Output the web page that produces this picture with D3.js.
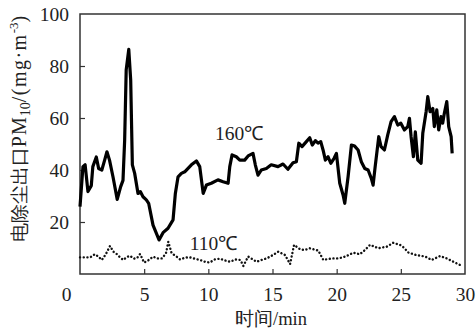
<!DOCTYPE html>
<html><head><meta charset="utf-8">
<script src="https://cdn.jsdelivr.net/npm/d3@7"></script>
<style>
html,body{margin:0;padding:0;background:#fff;}
svg{display:block;}
text{font-family:"Liberation Serif","Times New Roman",serif;fill:#222;}
</style></head>
<body>
<svg id="chart" width="476" height="332"></svg>
<script>
// ---- data ----
const xTicks = [0, 5, 10, 15, 20, 25, 30];
const yTicks = [20, 40, 60, 80, 100];
const seriesNames = ["160℃", "110℃"];

const hotTime = [0,0.23,0.4,0.62,0.88,1.0,1.27,1.45,1.7,1.92,2.1,2.3,2.57,2.9,3.17,3.35,3.48,3.6,3.8,3.95,4.08,4.26,4.52,4.7,4.91,5.17,5.35,5.69,6.16,6.47,6.86,7.25,7.43,7.64,7.9,8.16,8.68,9.07,9.33,9.6,9.85,10.23,10.75,11.15,11.54,11.67,11.85,12.18,12.45,12.83,13.1,13.48,13.66,13.87,14.13,14.52,14.9,15.43,15.82,16.2,16.6,16.86,17.05,17.3,17.64,17.9,18.1,18.34,18.55,18.76,18.94,19.12,19.33,19.54,19.8,19.98,20.24,20.5,20.63,20.89,21.15,21.4,21.67,21.92,22.19,22.45,22.7,22.84,23.0,23.28,23.46,23.72,23.98,24.24,24.5,24.76,25.0,25.28,25.54,25.67,25.8,25.98,26.13,26.32,26.58,26.71,26.97,27.1,27.28,27.49,27.61,27.8,27.95,28.13,28.26,28.39,28.58,28.73,28.92,29.0];
const hotValue = [25.9,41.3,42,31.7,34,41.3,45,40.6,40,43.8,47,43.8,37.4,28.7,33.6,36,51.5,78.5,86.4,74.6,42,38.7,31,31.7,29.7,28.5,27.2,18.8,13.1,15.9,17.6,20.8,31,37.4,38.7,39.3,42,43.5,41.3,31,34.2,34.9,36.2,35.5,34.9,41.3,45.8,45.1,43.8,43.8,45.4,46.4,42,38,40,40.6,42,41.3,42.3,40.3,42.8,43.2,50.3,49,50.9,52.4,49.6,51.3,50.3,50.9,47.7,43.8,45.1,42.6,44.5,46.4,34.9,30.4,27.2,37.4,49.6,49.2,47.7,43.2,40.6,40,36.8,34.2,41.3,52.8,49,47.7,53.5,58.6,60.5,57.3,58,55.4,56.7,59.9,52.8,45.1,54.7,43.8,42.6,54.1,62.4,68.2,62.4,63.7,56.7,63.1,55.4,60.5,58,61.8,66.3,56.7,52.8,46.4];

const coldTime = [0,0.4,0.8,1.15,1.4,1.7,2.0,2.34,2.6,2.86,3.1,3.37,3.65,3.9,4.2,4.45,4.68,4.99,5.3,5.7,6.0,6.4,6.7,6.88,7.14,7.5,7.8,8.2,8.57,9.0,9.35,9.74,10.1,10.5,10.9,11.3,11.7,12.1,12.5,12.73,13.1,13.4,13.77,14.2,14.55,15.0,15.45,15.98,16.37,16.68,17.15,17.5,17.9,18.57,18.96,19.35,19.74,20.1,20.5,20.9,21.3,21.8,22.2,22.6,23.25,23.9,24.4,24.94,25.2,25.6,26.2,26.9,27.4,28.06,28.58,29.1,29.6];
const coldValue = [6.4,6.4,6.4,7.6,6.8,5.4,7.5,10.8,8.6,7.7,6.5,5.4,6.5,7,5.9,6.2,7.7,4.4,5.2,6.7,6.0,6.0,8,12.4,8,6.8,5.6,6.3,6.4,5.8,5.4,4.7,4.4,5.6,5.9,5.2,4.7,5.6,5.4,3.1,6.7,5.8,4.7,5.5,6,7.2,8.6,7.3,3.8,11.2,9.5,9.2,9.9,9,5.4,5.8,6,6,6.4,7.2,8.2,7.6,9.2,11.2,9.9,10.5,12,11.2,10.3,8.2,7.3,6.7,5.4,6.9,6,4.7,3.5];

// ---- layout ----
const svg = d3.select("#chart");
const mLeft = 80, mRight = 465, mTop = 14, mBottom = 274;
const x = d3.scaleLinear().domain([0, 30]).range([mLeft, mRight]);
const y = d3.scaleLinear().domain([0, 100]).range([mBottom, mTop]);

// frame
svg.append("rect").attr("x", mLeft).attr("y", mTop)
  .attr("width", mRight - mLeft).attr("height", mBottom - mTop)
  .attr("fill", "none").attr("stroke", "#333").attr("stroke-width", 1.5);

// x axis
const xAxis = svg.append("g").attr("transform", `translate(0,${mBottom})`)
  .call(d3.axisBottom(x).tickValues(xTicks).tickSizeInner(-5).tickSizeOuter(0).tickPadding(13));
xAxis.attr("font-family", null);
xAxis.select(".domain").remove();
xAxis.selectAll("line").attr("stroke", "#333").attr("stroke-width", 1.2)
  .filter(d => d === 0 || d === 30).remove();
xAxis.selectAll("text").attr("font-size", 19.5).attr("fill", "#333")
  .style("font-family", "'Liberation Serif',serif")
  .attr("dx", d => d === 0 ? -14 : 0);

// y axis
const yAxis = svg.append("g").attr("transform", `translate(${mLeft},0)`)
  .call(d3.axisLeft(y).tickValues(yTicks).tickSizeInner(-5).tickSizeOuter(0).tickPadding(11));
yAxis.attr("font-family", null);
yAxis.select(".domain").remove();
yAxis.selectAll("line").attr("stroke", "#333").attr("stroke-width", 1.2)
  .filter(d => d === 100).remove();
yAxis.selectAll("text").attr("font-size", 19.5).attr("fill", "#333")
  .style("font-family", "'Liberation Serif',serif");

// lines
const line = d3.line().x(d => x(d[0])).y(d => y(d[1]));
const hot = hotTime.map((t, i) => [t, hotValue[i]]);
const cold = coldTime.map((t, i) => [t, coldValue[i]]);

svg.append("path").datum(cold).attr("d", line)
  .attr("fill", "none").attr("stroke", "#111").attr("stroke-width", 2.4)
  .attr("stroke-linecap", "round").attr("stroke-dasharray", "0.1 3.6");

svg.append("path").datum(hot).attr("d", line)
  .attr("fill", "none").attr("stroke", "#000").attr("stroke-width", 3.2)
  .attr("stroke-linejoin", "round");

// series labels
svg.append("text").attr("x", x(12.4)).attr("y", 140).attr("font-size", 19.5)
  .attr("fill", "#333").attr("text-anchor", "middle").text(seriesNames[0]);
svg.append("text").attr("x", x(10.4)).attr("y", 250).attr("font-size", 19.5)
  .attr("fill", "#333").attr("text-anchor", "middle").text(seriesNames[1]);

// axis titles
svg.append("text").attr("x", 271).attr("y", 325).attr("font-size", 18.5)
  .attr("fill", "#333").attr("text-anchor", "middle").text("时间/min");

const yt = svg.append("text")
  .attr("transform", "translate(26,129) rotate(-90)")
  .attr("text-anchor", "middle").attr("font-size", 20).attr("fill", "#333");
yt.append("tspan").attr("font-size", 18.5).text("电除尘出口");
yt.append("tspan").attr("letter-spacing", 1).text("PM");
yt.append("tspan").attr("font-size", 14).attr("dy", 4).text("10");
yt.append("tspan").attr("dy", -4).attr("letter-spacing", 1.5).text("/(mg·m");
yt.append("tspan").attr("font-size", 13).attr("dy", -8).text("-3");
yt.append("tspan").attr("dy", 8).text(")");
</script>
</body></html>
